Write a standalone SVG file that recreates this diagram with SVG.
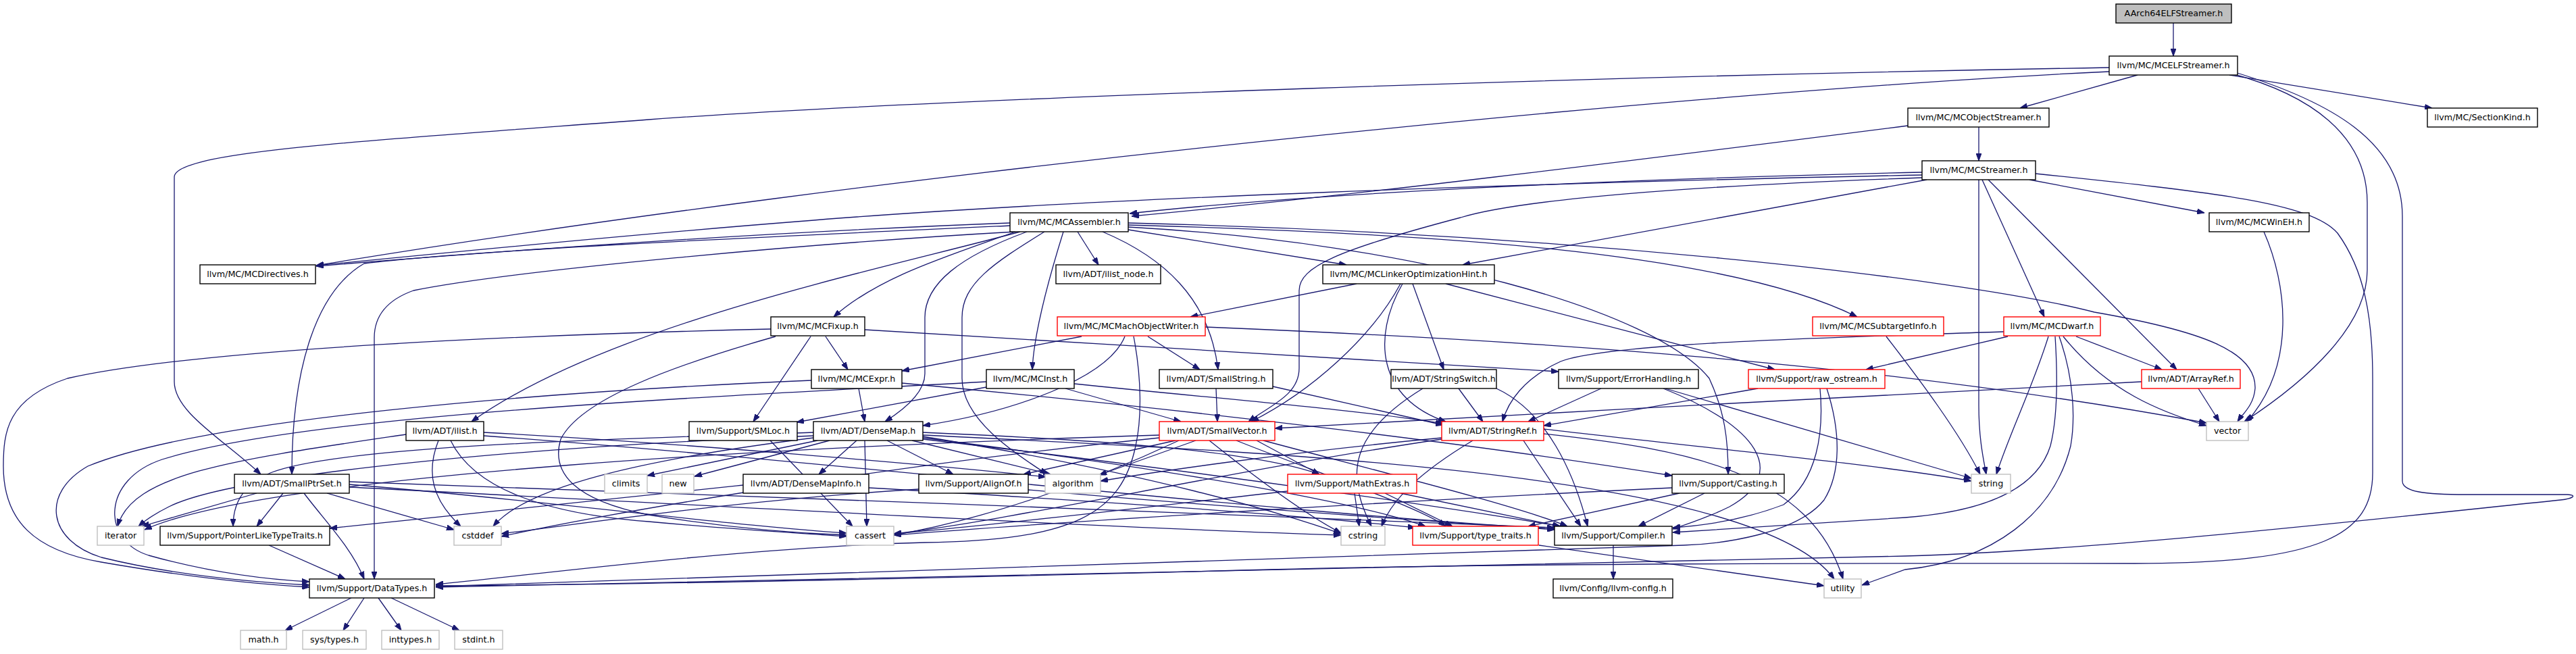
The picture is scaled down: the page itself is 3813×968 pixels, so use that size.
<svg xmlns="http://www.w3.org/2000/svg" width="3813" height="968" viewBox="0 0 3813 968">
<style>
rect{fill:#fff;stroke:#000;stroke-width:1.4}
rect.r{stroke:#ff0000}
rect.g{stroke:#bfbfbf}
rect.root{fill:#bfbfbf;stroke:#000}
text{font-family:"DejaVu Sans","Liberation Sans",sans-serif;font-size:12.7px;text-anchor:middle;fill:#000}
#edges path{fill:none;stroke:#191970;stroke-width:1.3;marker-end:url(#ah)}
</style>
<defs>
<marker id="ah" markerUnits="userSpaceOnUse" markerWidth="11" markerHeight="8" viewBox="0 0 11 8" refX="11" refY="4" orient="auto">
<path d="M0,0 L11,4 L0,8 z" fill="#191970" stroke="#191970"/>
</marker>
</defs>
<rect x="0" y="0" width="3813" height="968" style="fill:#fff;stroke:none"/>
<g id="edges">
<path d="M3217,34 L3217,83"/>
<path d="M3164,111 L2990,160"/>
<path d="M3300,111 L3600,160"/>
<path d="M3122,100 C2400,112 1400,145 960,177 C520,210 258,225 258,262 L258,565 C258,610 330,650 386,702"/>
<path d="M3122,106 C2500,135 1300,255 468,393"/>
<path d="M3300,108 C3420,140 3504,200 3504,300 L3504,400 C3504,480 3420,560 3322,624"/>
<path d="M3305,106 C3450,150 3556,210 3556,320 L3556,712 C3556,728 3590,732 3650,732 L3800,732 C3816,733 3808,738 3790,740 C3500,770 3100,815 2820,823 C2200,838 1300,855 645,869"/>
<path d="M2929,188 L2929,238"/>
<path d="M2824,186 C2400,240 2000,290 1675,320"/>
<path d="M2845,255 C2400,265 1950,285 1672,316"/>
<path d="M2845,259 C2300,270 1600,293 1179,328 C900,350 620,378 468,393"/>
<path d="M2845,263 C2500,275 2250,295 2162,322 C1980,370 1923,395 1923,430 L1923,545 C1923,585 1880,600 1848,624"/>
<path d="M2852,266 L2165,392"/>
<path d="M2929,266 L2929,600 C2929,650 2936,680 2940,702"/>
<path d="M2934,266 L3026,469"/>
<path d="M2943,266 L3222,547"/>
<path d="M3004,266 L3263,315"/>
<path d="M3013,257 C3280,285 3420,300 3460,345 C3500,400 3512,470 3512,560 L3512,700 C3512,790 3440,834 3160,834 C2900,834 2300,832 1880,843 C1300,858 900,866 645,867"/>
<path d="M1495,330 C1100,345 700,375 468,394"/>
<path d="M1495,334 C1100,352 700,370 539,390 C470,430 432,540 432,702"/>
<path d="M1503,343 C1200,360 760,400 612,430 C570,445 554,470 554,500 L554,857"/>
<path d="M1510,343 C1300,400 900,480 698,624"/>
<path d="M1503,343 C1400,380 1300,410 1234,469"/>
<path d="M1520,343 C1420,380 1369,420 1369,470 L1369,553 C1369,580 1340,605 1310,624"/>
<path d="M1546,343 C1470,390 1424,420 1424,470 L1424,560 C1424,620 1500,670 1550,702"/>
<path d="M1574,343 C1550,420 1530,500 1528,547"/>
<path d="M1595,343 L1626,392"/>
<path d="M1632,343 C1720,380 1790,440 1803,547"/>
<path d="M1670,340 L1993,392"/>
<path d="M1670,333 C2100,345 2550,370 2749,469"/>
<path d="M1670,330 C2300,345 2900,410 3100,462 C3260,490 3340,520 3338,575 C3336,600 3320,612 3312,624"/>
<path d="M1670,336 C2100,360 2450,460 2530,560 C2553,610 2558,650 2558,702"/>
<path d="M2008,420 L1762,469"/>
<path d="M2073,420 C2030,500 1940,580 1852,624"/>
<path d="M2076,420 C2030,500 2040,590 2140,624"/>
<path d="M2091,420 L2137,547"/>
<path d="M2140,420 L2627,547"/>
<path d="M1601,498 L1335,549"/>
<path d="M1665,498 C1640,560 1500,610 1366,630"/>
<path d="M1699,498 L1776,547"/>
<path d="M1678,498 C1690,560 1690,620 1681,660 C1660,760 1590,800 1369,803 C1100,810 800,850 645,865"/>
<path d="M1784,484 C2300,505 2800,540 3266,626"/>
<path d="M2792,498 C2840,560 2900,640 2931,702"/>
<path d="M2966,491 C2700,500 2380,508 2310,535 C2255,560 2232,595 2224,624"/>
<path d="M2972,498 L2762,547"/>
<path d="M3032,498 C3010,570 2975,640 2955,702"/>
<path d="M3042,498 C3046,560 3045,620 3035,660 C3010,740 2900,760 2820,766 L2476,788"/>
<path d="M3048,498 C3070,560 3072,620 3065,660 C3040,760 2950,830 2820,843 L2756,866"/>
<path d="M3054,498 C3120,580 3200,610 3266,630"/>
<path d="M3073,498 L3200,547"/>
<path d="M1201,563 C800,580 300,620 130,690 C60,730 70,800 150,825 C260,852 380,862 458,866"/>
<path d="M1271,575 L1280,624"/>
<path d="M1335,567 C1800,610 2200,660 2475,704"/>
<path d="M1460,565 C1000,590 450,615 240,680 C150,710 150,800 220,822 C320,850 400,858 458,861"/>
<path d="M1460,573 L1179,625"/>
<path d="M1577,575 L1748,624"/>
<path d="M1590,568 C1800,590 2000,605 2136,627"/>
<path d="M1141,487 C800,495 300,515 100,560 C10,590 5,640 5,690 C5,770 50,815 150,832 C300,858 400,866 458,869"/>
<path d="M1222,498 L1255,547"/>
<path d="M1200,498 L1115,624"/>
<path d="M1280,488 L2307,550"/>
<path d="M1148,498 C1000,540 860,590 830,650 C815,700 850,740 960,762 C1100,785 1200,790 1253,792"/>
<path d="M1800,575 L1802,624"/>
<path d="M1884,572 L2136,629"/>
<path d="M2159,575 L2195,624"/>
<path d="M2106,575 C2000,640 1990,700 2030,779"/>
<path d="M2215,575 C2290,610 2330,700 2350,779"/>
<path d="M2370,575 L2262,624"/>
<path d="M2462,575 C2600,630 2650,700 2560,750 C2530,765 2500,775 2476,783"/>
<path d="M2465,575 L2918,708"/>
<path d="M2602,575 L2285,630"/>
<path d="M2694,575 C2700,640 2690,710 2640,747 C2580,770 2520,778 2476,781"/>
<path d="M2704,575 C2725,640 2725,700 2700,740 C2660,790 2550,805 2492,807 C2200,820 1300,845 645,868"/>
<path d="M3170,565 C2800,585 2300,610 1887,634"/>
<path d="M3254,575 L3285,624"/>
<path d="M3351,343 C3385,420 3400,540 3326,624"/>
<path d="M601,643 C350,680 196,700 174,779"/>
<path d="M649,652 C630,700 640,740 682,779"/>
<path d="M667,652 C700,720 800,760 960,772 C1100,785 1200,790 1253,794"/>
<path d="M716,640 C1000,655 1400,690 1548,706"/>
<path d="M716,645 C1200,680 1900,760 2301,783"/>
<path d="M1140,652 L1262,779"/>
<path d="M1268,652 L1212,702"/>
<path d="M1313,652 L1411,702"/>
<path d="M1210,652 L958,704"/>
<path d="M1228,652 L1028,705"/>
<path d="M1350,652 L1555,702"/>
<path d="M1366,640 C1600,650 1850,665 1953,702"/>
<path d="M1204,640 C900,650 500,660 400,700 C355,720 345,750 345,779"/>
<path d="M1204,645 C800,660 350,700 250,750 C230,760 215,770 205,779"/>
<path d="M1280,652 L1283,779"/>
<path d="M1204,648 C950,680 780,720 730,779"/>
<path d="M1366,646 C1700,700 1900,760 1985,790"/>
<path d="M1366,648 C1700,690 2000,740 2110,779"/>
<path d="M1366,650 C1800,700 2200,760 2310,779"/>
<path d="M1366,644 C1900,670 2600,700 2715,857"/>
<path d="M1740,652 L1515,702"/>
<path d="M1770,652 L1627,703"/>
<path d="M1745,652 C1600,720 1450,770 1323,792"/>
<path d="M1716,648 C1300,690 900,760 742,794"/>
<path d="M1790,652 C1850,700 1930,760 1985,789"/>
<path d="M1716,644 C1200,660 400,700 214,784"/>
<path d="M1860,652 L1953,702"/>
<path d="M1830,652 C1950,700 2100,750 2140,779"/>
<path d="M1870,652 C2050,700 2250,750 2320,779"/>
<path d="M2255,652 L2340,779"/>
<path d="M2134,648 C1900,670 1700,700 1629,712"/>
<path d="M2134,650 C1800,700 1500,770 1323,790"/>
<path d="M2180,652 C2100,700 2060,740 2045,779"/>
<path d="M2285,635 C2500,660 2800,690 2918,712"/>
<path d="M2285,642 C2500,665 2680,700 2728,857"/>
<path d="M2005,730 L2012,779"/>
<path d="M2073,730 L2309,779"/>
<path d="M1906,727 C1700,750 1450,780 1323,790"/>
<path d="M2050,730 L2150,779"/>
<path d="M2475,722 C2100,740 1600,770 1323,792"/>
<path d="M2486,730 L2262,779"/>
<path d="M2523,730 L2425,779"/>
<path d="M1100,718 C900,740 700,760 488,782"/>
<path d="M1286,722 C1600,740 1900,760 2095,781"/>
<path d="M1522,725 C1800,750 2100,770 2301,784"/>
<path d="M1360,724 C1100,740 900,770 742,790"/>
<path d="M380,730 L210,779"/>
<path d="M419,730 L380,779"/>
<path d="M450,730 C480,770 520,810 539,857"/>
<path d="M484,730 L672,784"/>
<path d="M517,713 C1000,730 1800,760 2301,781"/>
<path d="M517,717 C800,740 1100,780 1253,789"/>
<path d="M517,721 C1000,745 1600,780 1985,792"/>
<path d="M398,807 L511,857"/>
<path d="M520,885 L422,933"/>
<path d="M539,885 L508,933"/>
<path d="M560,885 L594,933"/>
<path d="M579,885 L680,933"/>
<path d="M2388,807 L2388,857"/>
<path d="M2278,807 L2700,867"/>
</g>
<g id="nodes">
<g id="n0"><rect class="root" x="3132" y="6" width="171" height="28"/><text x="3217.5" y="24">AArch64ELFStreamer.h</text></g>
<g id="n1"><rect x="3122" y="83" width="190" height="28"/><text x="3217" y="101">llvm/MC/MCELFStreamer.h</text></g>
<g id="n2"><rect x="2824" y="160" width="209" height="28"/><text x="2928.5" y="178">llvm/MC/MCObjectStreamer.h</text></g>
<g id="n3"><rect x="3593" y="160" width="163" height="28"/><text x="3674.5" y="178">llvm/MC/SectionKind.h</text></g>
<g id="n4"><rect x="2845" y="238" width="168" height="28"/><text x="2929" y="256">llvm/MC/MCStreamer.h</text></g>
<g id="n5"><rect x="1495" y="315" width="175" height="28"/><text x="1582.5" y="333">llvm/MC/MCAssembler.h</text></g>
<g id="n6"><rect x="3270" y="315" width="148" height="28"/><text x="3344" y="333">llvm/MC/MCWinEH.h</text></g>
<g id="n7"><rect x="296" y="392" width="171" height="28"/><text x="381.5" y="410">llvm/MC/MCDirectives.h</text></g>
<g id="n8"><rect x="1563" y="392" width="155" height="28"/><text x="1640.5" y="410">llvm/ADT/ilist_node.h</text></g>
<g id="n9"><rect x="1958" y="392" width="254" height="28"/><text x="2085" y="410">llvm/MC/MCLinkerOptimizationHint.h</text></g>
<g id="n10"><rect x="1141" y="469" width="139" height="28"/><text x="1210.5" y="487">llvm/MC/MCFixup.h</text></g>
<g id="n11"><rect class="r" x="1565" y="469" width="219" height="28"/><text x="1674.5" y="487">llvm/MC/MCMachObjectWriter.h</text></g>
<g id="n12"><rect class="r" x="2683" y="469" width="194" height="28"/><text x="2780" y="487">llvm/MC/MCSubtargetInfo.h</text></g>
<g id="n13"><rect class="r" x="2966" y="469" width="143" height="28"/><text x="3037.5" y="487">llvm/MC/MCDwarf.h</text></g>
<g id="n14"><rect x="1201" y="547" width="134" height="28"/><text x="1268" y="565">llvm/MC/MCExpr.h</text></g>
<g id="n15"><rect x="1460" y="547" width="130" height="28"/><text x="1525" y="565">llvm/MC/MCInst.h</text></g>
<g id="n16"><rect x="1716" y="547" width="168" height="28"/><text x="1800" y="565">llvm/ADT/SmallString.h</text></g>
<g id="n17"><rect x="2059" y="547" width="156" height="28"/><text x="2137" y="565">llvm/ADT/StringSwitch.h</text></g>
<g id="n18"><rect x="2307" y="547" width="207" height="28"/><text x="2410.5" y="565">llvm/Support/ErrorHandling.h</text></g>
<g id="n19"><rect class="r" x="2588" y="547" width="202" height="28"/><text x="2689" y="565">llvm/Support/raw_ostream.h</text></g>
<g id="n20"><rect class="r" x="3170" y="547" width="146" height="28"/><text x="3243" y="565">llvm/ADT/ArrayRef.h</text></g>
<g id="n21"><rect x="601" y="624" width="115" height="28"/><text x="658.5" y="642">llvm/ADT/ilist.h</text></g>
<g id="n22"><rect x="1020" y="624" width="160" height="28"/><text x="1100" y="642">llvm/Support/SMLoc.h</text></g>
<g id="n23"><rect x="1204" y="624" width="162" height="28"/><text x="1285" y="642">llvm/ADT/DenseMap.h</text></g>
<g id="n24"><rect class="r" x="1716" y="624" width="171" height="28"/><text x="1801.5" y="642">llvm/ADT/SmallVector.h</text></g>
<g id="n25"><rect class="r" x="2134" y="624" width="151" height="28"/><text x="2209.5" y="642">llvm/ADT/StringRef.h</text></g>
<g id="n26"><rect class="g" x="3266" y="624" width="62" height="28"/><text x="3297" y="642">vector</text></g>
<g id="n27"><rect x="347" y="702" width="170" height="28"/><text x="432" y="720">llvm/ADT/SmallPtrSet.h</text></g>
<g id="n28"><rect class="g" x="895" y="702" width="63" height="28"/><text x="926.5" y="720">climits</text></g>
<g id="n29"><rect class="g" x="980" y="702" width="47" height="28"/><text x="1003.5" y="720">new</text></g>
<g id="n30"><rect x="1100" y="702" width="186" height="28"/><text x="1193" y="720">llvm/ADT/DenseMapInfo.h</text></g>
<g id="n31"><rect x="1360" y="702" width="162" height="28"/><text x="1441" y="720">llvm/Support/AlignOf.h</text></g>
<g id="n32"><rect class="g" x="1547" y="702" width="82" height="28"/><text x="1588" y="720">algorithm</text></g>
<g id="n33"><rect class="r" x="1906" y="702" width="191" height="28"/><text x="2001.5" y="720">llvm/Support/MathExtras.h</text></g>
<g id="n34"><rect x="2475" y="702" width="166" height="28"/><text x="2558" y="720">llvm/Support/Casting.h</text></g>
<g id="n35"><rect class="g" x="2918" y="702" width="58" height="28"/><text x="2947" y="720">string</text></g>
<g id="n36"><rect class="g" x="144" y="779" width="69" height="28"/><text x="178.5" y="797">iterator</text></g>
<g id="n37"><rect x="237" y="779" width="251" height="28"/><text x="362.5" y="797">llvm/Support/PointerLikeTypeTraits.h</text></g>
<g id="n38"><rect class="g" x="672" y="779" width="70" height="28"/><text x="707" y="797">cstddef</text></g>
<g id="n39"><rect class="g" x="1253" y="779" width="70" height="28"/><text x="1288" y="797">cassert</text></g>
<g id="n40"><rect class="g" x="1985" y="779" width="65" height="28"/><text x="2017.5" y="797">cstring</text></g>
<g id="n41"><rect class="r" x="2091" y="779" width="186" height="28"/><text x="2184" y="797">llvm/Support/type_traits.h</text></g>
<g id="n42"><rect x="2301" y="779" width="174" height="28"/><text x="2388" y="797">llvm/Support/Compiler.h</text></g>
<g id="n43"><rect x="458" y="857" width="185" height="28"/><text x="550.5" y="875">llvm/Support/DataTypes.h</text></g>
<g id="n44"><rect x="2299" y="857" width="177" height="28"/><text x="2387.5" y="875">llvm/Config/llvm-config.h</text></g>
<g id="n45"><rect class="g" x="2700" y="857" width="55" height="28"/><text x="2727.5" y="875">utility</text></g>
<g id="n46"><rect class="g" x="356" y="933" width="68" height="28"/><text x="390" y="951">math.h</text></g>
<g id="n47"><rect class="g" x="448" y="933" width="94" height="28"/><text x="495" y="951">sys/types.h</text></g>
<g id="n48"><rect class="g" x="565" y="933" width="85" height="28"/><text x="607.5" y="951">inttypes.h</text></g>
<g id="n49"><rect class="g" x="673" y="933" width="71" height="28"/><text x="708.5" y="951">stdint.h</text></g>
</g>
</svg>
